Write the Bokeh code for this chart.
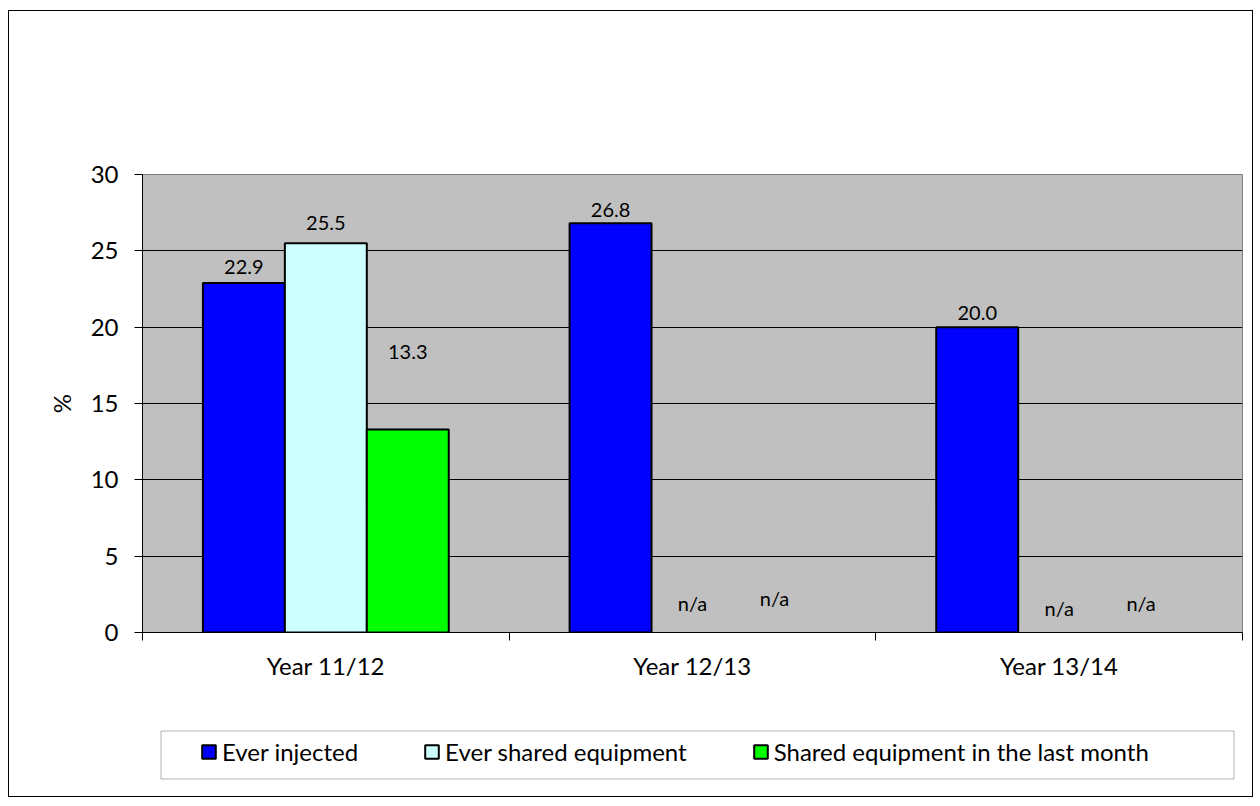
from bokeh.plotting import figure
from bokeh.models import (Range1d, FixedTicker, Legend, LegendItem, ColumnDataSource,
                          BoxAnnotation)
from bokeh.layouts import column
from bokeh.core.properties import value
from bokeh.transform import dodge
from bokeh.embed import file_html
from bokeh.resources import INLINE

# ---- data ----
categories = ["Year 11/12", "Year 12/13", "Year 13/14"]
series_names = ["Ever injected", "Ever shared equipment", "Shared equipment in the last month"]
ever_injected = [22.9, 26.8, 20.0]
ever_shared = [25.5, None, None]
shared_last_month = [13.3, None, None]
y_ticks = [0, 5, 10, 15, 20, 25, 30]

# ---- styling ----
colors = ["#0000FF", "#CCFFFF", "#00FF00"]
offsets = [-0.2235, 0.0, 0.2235]
bar_width = 0.2235
# vertical label nudges in pixels (label centre above bar top / axis)
label_nudges = [[16, 13, 14], [20, 30, 25], [77, 35, 30]]
FONT = "Lato"

W = 1243
H_MAIN = 689
H_LEG = 96
B_LEFT, B_RIGHT = 133, 10

p = figure(width=W, height=H_MAIN, output_backend="svg", toolbar_location=None,
           x_range=Range1d(0, 3), y_range=Range1d(0, 30),
           min_border_left=B_LEFT, min_border_right=B_RIGHT, min_border_top=163, min_border_bottom=68)
p.background_fill_color = "#C0C0C0"
p.border_fill_color = "white"
p.outline_line_color = "#808080"
p.outline_line_width = 1

# axes
p.xaxis.ticker = FixedTicker(ticks=[i + 0.5 for i in range(len(categories))],
                             minor_ticks=list(range(len(categories) + 1)))
p.xaxis.major_label_overrides = {i + 0.5: c for i, c in enumerate(categories)}
p.xaxis.major_tick_out = 0
p.xaxis.major_tick_in = 0
p.xaxis.minor_tick_out = 8
p.xaxis.minor_tick_in = 0
p.xaxis.minor_tick_line_color = "black"
p.xaxis.major_label_standoff = 10
p.xaxis.axis_line_color = "black"

p.yaxis.ticker = FixedTicker(ticks=y_ticks, minor_ticks=[])
p.yaxis.major_tick_out = 8
p.yaxis.major_tick_in = 0
p.yaxis.major_label_standoff = 16
p.yaxis.axis_label = "%"
p.yaxis.axis_label_standoff = 12
p.yaxis.axis_label_text_font_style = "normal"
p.yaxis.axis_line_color = "black"

for ax in (p.xaxis[0], p.yaxis[0]):
    ax.major_label_text_font = FONT
    ax.major_label_text_font_size = "24px"
    ax.major_label_text_color = "black"
    ax.axis_label_text_font = FONT
    ax.axis_label_text_font_size = "24px"
    ax.axis_label_text_color = "black"
    ax.major_tick_line_color = "black"

p.xgrid.visible = False
p.ygrid.ticker = FixedTicker(ticks=y_ticks[1:-1])
p.ygrid.grid_line_color = "black"
p.ygrid.grid_line_width = 1

# legend panel: same horizontal frame as the chart
lg = figure(width=W, height=H_LEG, output_backend="svg", toolbar_location=None,
            x_range=Range1d(0, 1), y_range=Range1d(0, 1),
            x_axis_type=None, y_axis_type=None,
            min_border_left=B_LEFT, min_border_right=B_RIGHT, min_border_top=0, min_border_bottom=0)
lg.background_fill_color = "white"
lg.border_fill_color = "white"
lg.outline_line_color = None
lg.grid.visible = False
lg.add_layout(BoxAnnotation(left=151.5, right=1224.5, top=30.5, bottom=78.5,
                            left_units="canvas", right_units="canvas",
                            top_units="canvas", bottom_units="canvas",
                            fill_color="white", fill_alpha=1,
                            line_color="black", line_width=1, level="underlay"))

series_values = [ever_injected, ever_shared, shared_last_month]
items = []
for k, vals in enumerate(series_values):
    xs = [i + 0.5 for i in range(len(categories))]
    tops = [float("nan") if v is None else v for v in vals]
    ys = [0 if v is None else v for v in vals]
    labels = ["n/a" if v is None else f"{v:.1f}" for v in vals]
    src = ColumnDataSource(dict(x=xs, top=tops, y=ys, label=labels,
                                yoff=[-n for n in label_nudges[k]]))
    p.vbar(x=dodge("x", offsets[k], range=p.x_range), top="top", bottom=0, width=bar_width,
           source=src, fill_color=colors[k], line_color="black", line_width=2)
    p.text(x=dodge("x", offsets[k], range=p.x_range), y="y", text="label", source=src,
           y_offset="yoff", text_align="center", text_baseline="middle",
           text_font=value(FONT), text_font_size="20px", text_color="black")
    # legend swatch renderer (no drawable data, shows only in the legend)
    sw = lg.vbar(x=[float("nan")], top=[float("nan")], bottom=float("nan"), width=1,
                 fill_color=colors[k], line_color="black", line_width=2)
    items.append(LegendItem(label=series_names[k], renderers=[sw]))

legend = Legend(items=items, orientation="horizontal", location=(58, 30),
                label_text_font=FONT, label_text_font_size="24px", label_text_color="black",
                glyph_width=17, glyph_height=17, label_standoff=5, spacing=65,
                padding=0, margin=0, background_fill_alpha=0, border_line_alpha=0)
lg.add_layout(legend, "center")

layout = column(p, lg, spacing=0, margin=(10, 0, 0, 8),
                styles={"border": "1px solid #000000"})

open("out.html", "w").write(file_html(layout, INLINE))
